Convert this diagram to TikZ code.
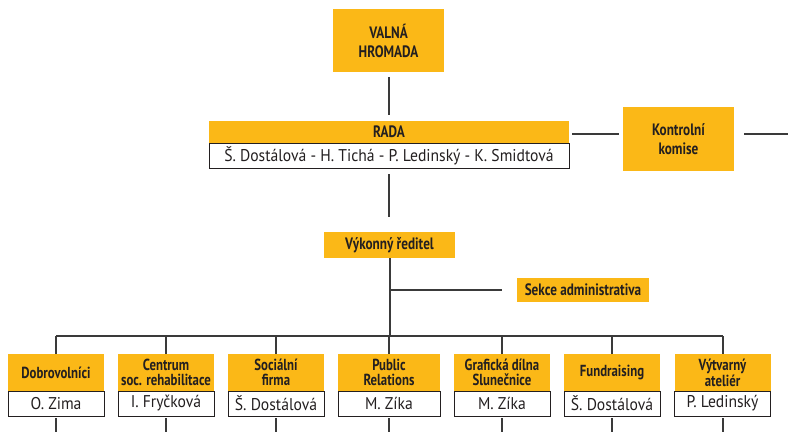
\documentclass[tikz,border=0pt]{standalone}
\usepackage{fontspec}
\setmainfont{PT Sans}
\newfontfamily\hlavafont[FakeStretch=0.8]{PT Sans}
\newfontfamily\jmenofont[FakeStretch=0.92]{PT Sans}
\definecolor{oranz}{HTML}{FBB817}
\definecolor{tmava}{HTML}{231F20}
\definecolor{cara}{HTML}{3A3A3A}

\begin{document}
\begin{tikzpicture}[x=1pt, y=-1pt,
  hlava/.style={fill=oranz, text=tmava, align=center, inner sep=0pt,
    font=\hlavafont\bfseries\fontsize{16.5}{19}\selectfont},
  hlavadole/.style={hlava, minimum height=37pt,
    font=\hlavafont\bfseries\fontsize{16}{14.5}\selectfont},
  jmeno/.style={fill=white, draw=tmava, line width=0.8pt, text=tmava, inner sep=0pt,
    minimum height=25pt, font=\jmenofont\fontsize{17}{18}\selectfont},
  spoj/.style={draw=cara, line width=2pt}]

\useasboundingbox (0,0) rectangle (788,432);

\coordinate (bus) at (389,336);
\coordinate (kout) at (788,134);

% horni cast
\node[hlava, minimum width=111pt, minimum height=63pt] (valna) at (388.5,40.5) {VALNÁ\\HROMADA};
\node[hlava, minimum width=360pt, minimum height=22pt] (rada) at (389,132) {RADA};
\node[jmeno, minimum width=360pt] (radaclen) at (389,155.5) {Š. Dostálová - H. Tichá - P. Ledinský - K. Smidtová};
\node[hlava, minimum width=111pt, minimum height=64pt] (kontrola) at (678.5,139) {Kontrolní\\komise};
\node[hlava, minimum width=131pt, minimum height=26pt] (reditel) at (389.5,245) {Výkonný ředitel};
\node[hlava, minimum width=132pt, minimum height=24pt] (sekce) at (583,290) {Sekce administrativa};

% useky
\node[hlavadole, minimum width=96pt] (dobro) at (56,372.5) {Dobrovolníci};
\node[hlavadole, minimum width=96pt] (centrum) at (166,372.5) {Centrum\\soc. rehabilitace};
\node[hlavadole, minimum width=96pt] (firma) at (276,372.5) {Sociální\\firma};
\node[hlavadole, minimum width=102pt] (pr) at (389,372.5) {Public\\Relations};
\node[hlavadole, minimum width=96pt] (dilna) at (502,372.5) {Grafická dílna\\Slunečnice};
\node[hlavadole, minimum width=96pt] (fund) at (612,372.5) {Fundraising};
\node[hlavadole, minimum width=96pt] (vytv) at (722.5,372.5) {Výtvarný\\ateliér};

\node[jmeno, minimum width=96pt] (dobroj) at (56,403.5) {O. Zima};
\node[jmeno, minimum width=96pt] (centrumj) at (166,403.5) {I. Fryčková};
\node[jmeno, minimum width=96pt] (firmaj) at (276,403.5) {Š. Dostálová};
\node[jmeno, minimum width=102pt] (prj) at (389,403.5) {M. Zíka};
\node[jmeno, minimum width=96pt] (dilnaj) at (502,403.5) {M. Zíka};
\node[jmeno, minimum width=96pt] (fundj) at (612,403.5) {Š. Dostálová};
\node[jmeno, minimum width=96pt] (vytvj) at (722.5,403.5) {P. Ledinský};

% spoje
\draw[spoj, shorten <=5pt, shorten >=6pt] (valna.south) -- (valna.south |- rada.north);
\draw[spoj, shorten <=6pt, shorten >=15pt] (radaclen.south) -- (radaclen.south |- reditel.north);
\draw[spoj] ([xshift=3pt]rada.east |- kout) -- ([xshift=-4pt]kontrola.west |- kout);
\draw[spoj] ([xshift=10pt]kontrola.east |- kout) -- (kout);
\draw[spoj] (reditel.south) -- (reditel.south |- bus);
\draw[spoj] (reditel.south |- sekce) -- ([xshift=-15pt]sekce.west);
\draw[spoj] (dobro.north |- bus) -- (vytv.north |- bus);
\foreach \u in {dobro,centrum,firma,pr,dilna,fund,vytv}
  \draw[spoj] (\u.north |- bus) -- (\u.north);
\foreach \u in {dobroj,centrumj,firmaj,prj,dilnaj,fundj,vytvj}
  \draw[spoj, shorten <=2pt] (\u.south) -- (\u.south |- 0,432);

\end{tikzpicture}
\end{document}
